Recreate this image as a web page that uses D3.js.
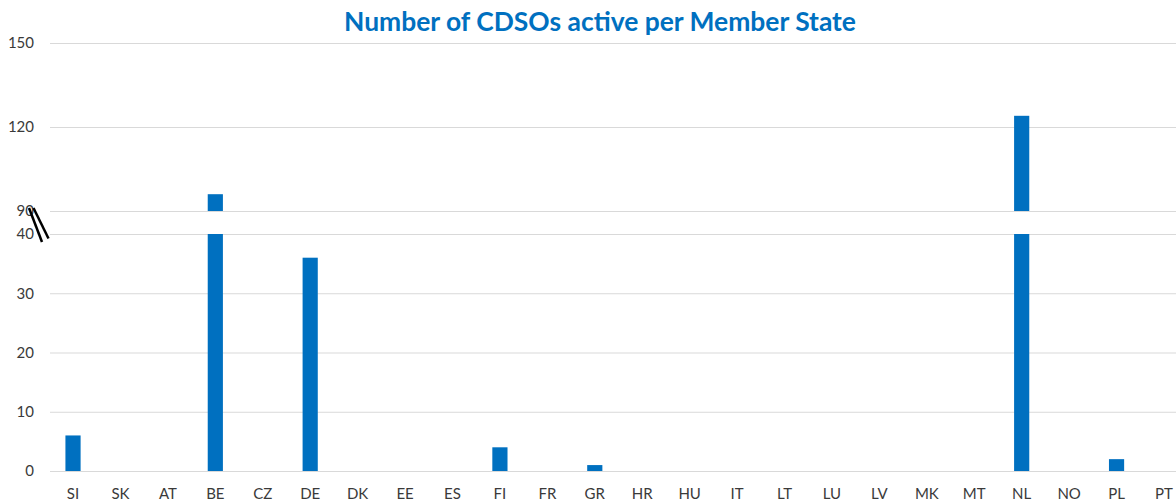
<!DOCTYPE html>
<html>
<head>
<meta charset="utf-8">
<script src="https://cdn.jsdelivr.net/npm/d3@7"></script>
<style>
  html, body { margin: 0; padding: 0; background: #fff; }
  svg { display: block; }
</style>
</head>
<body>
<svg id="chart" width="1176" height="502"></svg>
<script>
// Member states and number of active CDSOs
const categories = ["SI","SK","AT","BE","CZ","DE","DK","EE","ES","FI","FR","GR","HR","HU","IT","LT","LU","LV","MK","MT","NL","NO","PL","PT"];
const values     = [6, 0, 0, 96, 0, 36, 0, 0, 0, 4, 0, 1, 0, 0, 0, 0, 0, 0, 0, 0, 124, 0, 2, 0];
const lowerTicks = [0, 10, 20, 30, 40];
const upperTicks = [90, 120, 150];
const title = "Number of CDSOs active per Member State";

const svg = d3.select("#chart");
const blue = "#0070C0";
const gridColor = "#d9d9d9";
const textColor = "#3a3a3a";
const font = "Lato, 'Open Sans', 'Noto Sans', sans-serif";

// Category axis runs past the right edge of the window
const x = d3.scaleBand().domain(categories).range([49.3, 1187.7]).paddingInner(0.68).paddingOuter(0.34);

// Broken value axis: lower panel 0–40, upper panel 90–150
const yLow = d3.scaleLinear().domain([0, 40]).range([471, 234]);
const yHigh = d3.scaleLinear().domain([90, 150]).range([211, 43]);

const gridX1 = 50, gridX2 = 1176;

function panel(scale, ticks) {
  const g = svg.append("g");
  const axis = d3.axisLeft(scale).tickValues(ticks).tickSize(-(gridX2 - gridX1)).tickPadding(16);
  g.attr("transform", `translate(${gridX1},0)`).call(axis);
  g.select(".domain").remove();
  g.selectAll(".tick line").attr("stroke", gridColor).attr("stroke-width", 1);
  g.selectAll(".tick text")
    .attr("fill", textColor)
    .style("font-family", font)
    .style("font-size", "15px");
  return g;
}
panel(yLow, lowerTicks);
panel(yHigh, upperTicks);

// Bars: lower segment capped at the break, upper segment above it
const lowMax = yLow.domain()[1];
const highMin = yHigh.domain()[0];

svg.append("g").selectAll("rect")
  .data(categories.map((c, i) => ({ c, v: values[i] })).filter(d => d.v > 0))
  .join("rect")
  .attr("x", d => x(d.c))
  .attr("width", x.bandwidth())
  .attr("y", d => yLow(Math.min(d.v, lowMax)))
  .attr("height", d => yLow(0) - yLow(Math.min(d.v, lowMax)))
  .attr("fill", blue);

svg.append("g").selectAll("rect")
  .data(categories.map((c, i) => ({ c, v: values[i] })).filter(d => d.v > highMin))
  .join("rect")
  .attr("x", d => x(d.c))
  .attr("width", x.bandwidth())
  .attr("y", d => yHigh(d.v))
  .attr("height", d => yHigh(highMin) - yHigh(d.v))
  .attr("fill", blue);

// Category labels
const xAxis = d3.axisBottom(x).tickSize(0).tickPadding(17);
const gx = svg.append("g").attr("transform", `translate(0,${yLow(0)})`).call(xAxis);
gx.select(".domain").remove();
gx.selectAll(".tick text")
  .attr("fill", textColor)
  .style("font-family", font)
  .style("font-size", "15px");

// Axis break marks
svg.append("g")
  .attr("stroke", "#000")
  .attr("stroke-width", 2.5)
  .selectAll("line")
  .data([[29, 208, 42, 242], [33.5, 208, 48.5, 238.5]])
  .join("line")
  .attr("x1", d => d[0]).attr("y1", d => d[1])
  .attr("x2", d => d[2]).attr("y2", d => d[3]);

// Title
const t = svg.append("text")
  .attr("x", 600)
  .attr("y", 31)
  .attr("text-anchor", "middle")
  .attr("fill", blue)
  .style("font-family", font)
  .style("font-weight", "bold")
  .style("font-size", "24px")
  .text(title);
const w = t.node().getComputedTextLength();
t.style("font-size", (24 * 512 / w).toFixed(2) + "px");
</script>
</body>
</html>
